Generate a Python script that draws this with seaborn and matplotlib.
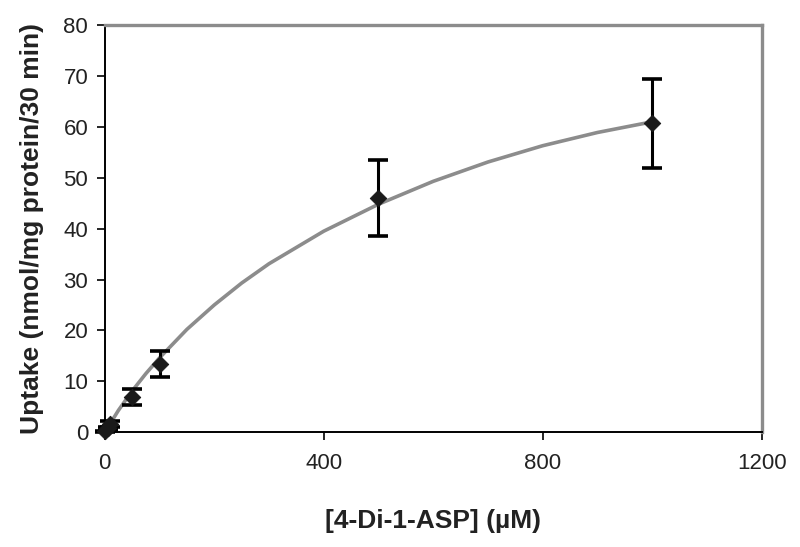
import matplotlib
matplotlib.use("Agg")
import matplotlib.pyplot as plt
import pandas as pd
import seaborn as sns

# measured uptake (mean +/- SD)
conc = [1, 5, 10, 50, 100, 500, 1000]
uptake = [0.2, 0.8, 1.6, 6.9, 13.4, 46.0, 60.7]
uptake_err = [0.1, 0.3, 0.5, 1.6, 2.5, 7.5, 8.7]

# fitted curve
curve_conc = [0, 10, 25, 50, 75, 100, 150, 200, 250, 300, 400, 500, 600, 700, 800, 900, 1000]
curve_uptake = [0, 1.7, 4.3, 8.1, 11.5, 14.6, 20.2, 25.0, 29.3, 33.1, 39.5, 44.8, 49.3, 53.1, 56.3, 58.9, 61.0]

x_ticks = [0, 400, 800, 1200]
y_ticks = [0, 10, 20, 30, 40, 50, 60, 70, 80]

sns.set_style("ticks")
plt.rcParams["font.family"] = ["Liberation Sans", "DejaVu Sans"]

points = pd.DataFrame({"conc": conc, "uptake": uptake, "err": uptake_err})
curve = pd.DataFrame({"conc": curve_conc, "uptake": curve_uptake})

fig = plt.figure(figsize=(8, 5.47), dpi=100)
ax = fig.add_axes([0.131, 0.21, 0.821, 0.744])

sns.lineplot(data=curve, x="conc", y="uptake", color="#8c8c8c", linewidth=2.6, ax=ax, zorder=2)
ax.errorbar(points["conc"], points["uptake"], yerr=points["err"], fmt="none",
            ecolor="black", elinewidth=2.2, capsize=7.5, capthick=2.6, zorder=3, clip_on=False)
sns.scatterplot(data=points, x="conc", y="uptake", marker="D", s=70, color="#1a1a1a",
                edgecolor="#1a1a1a", ax=ax, zorder=4, clip_on=False)

ax.set_xlim(0, 1200)
ax.set_ylim(0, 80)
ax.set_xticks(x_ticks)
ax.set_yticks(y_ticks)
ax.tick_params(axis="both", direction="out", length=6, width=1.2, labelsize=16,
               colors="black", labelcolor="#222222")
ax.tick_params(axis="y", pad=6)
ax.tick_params(axis="x", pad=9)

for side in ["left", "bottom"]:
    ax.spines[side].set_color("black")
    ax.spines[side].set_linewidth(1.4)
for side in ["top", "right"]:
    ax.spines[side].set_visible(True)
    ax.spines[side].set_color("#8c8c8c")
    ax.spines[side].set_linewidth(2.4)

ax.set_xlabel("[4-Di-1-ASP] (\u00b5M)", fontsize=19, fontweight="bold", labelpad=25, color="#222222")
ax.set_ylabel("Uptake (nmol/mg protein/30 min)", fontsize=19, fontweight="bold", labelpad=14, color="#222222")

fig.savefig("out.png", dpi=100)
